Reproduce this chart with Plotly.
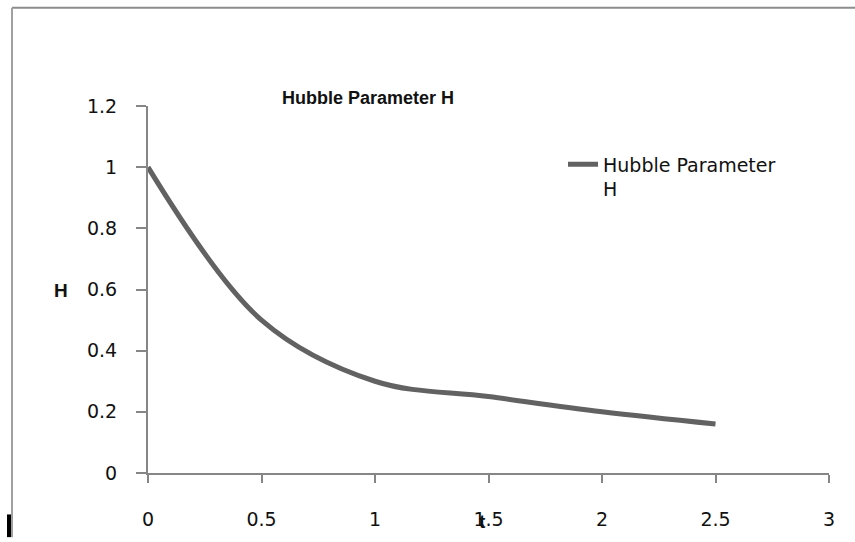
import plotly.graph_objects as go

# Data
t_values = [0, 0.5, 1, 1.5, 2, 2.5]
h_values = [1.0, 0.5, 0.3, 0.25, 0.2, 0.16]
series_name = "Hubble Parameter<br>H"
chart_title = "Hubble Parameter H"
x_ticks = [0, 0.5, 1, 1.5, 2, 2.5, 3]
x_tick_text = ["0", "0.5", "1", "1.5", "2", "2.5", "3"]
y_ticks = [0, 0.2, 0.4, 0.6, 0.8, 1.0, 1.2]
y_tick_text = ["0", "0.2", "0.4", "0.6", "0.8", "1", "1.2"]

W, H = 855, 542
L, R, T, B = 148, 26, 106, 64
pw, ph = W - L - R, H - T - B

def px_x(p):
    return (p - L) / pw

def px_y(p):
    return (H - B - p) / ph

axis_col = "#868686"
tick_font = dict(family="DejaVu Sans", size=19, color="#111111")

fig = go.Figure()
fig.add_trace(go.Scatter(
    x=t_values, y=h_values, mode="lines", name=series_name,
    line=dict(color="#626262", width=5, shape="spline", smoothing=1.0),
    showlegend=True,
))

fig.update_layout(
    width=W, height=H,
    margin=dict(l=L, r=R, t=T, b=B),
    paper_bgcolor="white", plot_bgcolor="white",
    title=dict(text="<b>" + chart_title + "</b>", x=368 / W, xanchor="center",
               xref="container", y=1 - 98 / H, yanchor="middle",
               font=dict(family="Liberation Sans", size=18, color="#111111")),
    showlegend=True,
    legend=dict(x=px_x(563), y=px_y(146), xanchor="left", yanchor="top",
                valign="top", bgcolor="rgba(0,0,0,0)", font=tick_font,
                tracegroupgap=0),
    xaxis=dict(range=[0, 3], tickvals=x_ticks, ticktext=x_tick_text,
               showgrid=False, zeroline=False, showline=True,
               linecolor=axis_col, linewidth=2, ticks="outside", ticklen=8,
               tickcolor=axis_col, tickwidth=2, tickfont=tick_font,
               ticklabelstandoff=20, fixedrange=True),
    yaxis=dict(range=[0, 1.2], tickvals=y_ticks, ticktext=y_tick_text,
               showgrid=False, zeroline=False, showline=True,
               linecolor=axis_col, linewidth=2, ticks="outside", ticklen=10,
               tickcolor=axis_col, tickwidth=2, tickfont=tick_font,
               ticklabelstandoff=15, fixedrange=True),
    annotations=[
        dict(text="<b>H</b>", xref="paper", yref="paper", x=px_x(61), y=px_y(293),
             showarrow=False, xanchor="center", yanchor="middle",
             font=dict(family="Liberation Sans", size=19, color="#111111")),
        dict(text="<b>t</b>", xref="paper", yref="paper", x=px_x(482), y=px_y(527),
             showarrow=False, xanchor="center", yanchor="middle",
             font=dict(family="Liberation Sans", size=19, color="#111111")),
    ],
    shapes=[
        dict(type="line", xref="paper", yref="paper", x0=px_x(12), x1=px_x(856),
             y0=px_y(6.5), y1=px_y(6.5), line=dict(color="#8c8c8c", width=2)),
        dict(type="line", xref="paper", yref="paper", x0=px_x(12), x1=px_x(12),
             y0=px_y(6.5), y1=px_y(543), line=dict(color="#a0a0a0", width=2)),
        dict(type="rect", xref="paper", yref="paper", x0=px_x(7), x1=px_x(11),
             y0=px_y(520), y1=px_y(543), line=dict(width=0), fillcolor="black"),
    ],
)

fig.write_html("out.html")
